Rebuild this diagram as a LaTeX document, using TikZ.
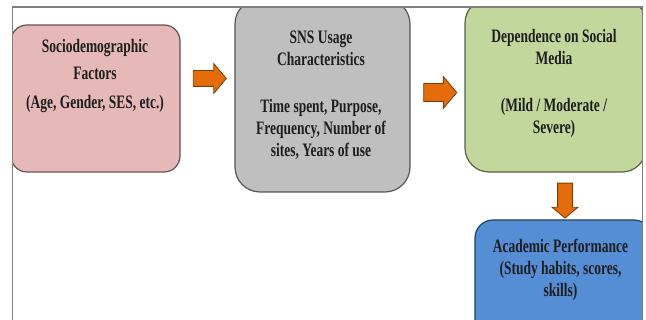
\documentclass[tikz,border=0pt]{standalone}
\usepackage{fontspec}
\setmainfont[FakeStretch=0.71]{Liberation Serif}
\usetikzlibrary{shapes.arrows}

\definecolor{pinkfill}{HTML}{E6B9B8}
\definecolor{grayfill}{HTML}{BFBFBF}
\definecolor{greenfill}{HTML}{C3D69B}
\definecolor{bluefill}{HTML}{558ED5}
\definecolor{arrowfill}{HTML}{E46C0A}
\definecolor{framegray}{HTML}{808080}
\definecolor{textdark}{HTML}{1E1E1E}

\tikzset{
  stagebox/.style={draw=#1!45!black, fill=#1, line width=1.2pt, rectangle,
    inner sep=0pt},
  boxtext/.style={align=center, inner sep=0pt, anchor=north, text=textdark,
    font=\fontsize{19}{22}\selectfont\bfseries},
  flowarrow/.style={shape=single arrow, draw=arrowfill!55!black, fill=arrowfill,
    line width=0.8pt, minimum height=#1, single arrow tip angle=100},
}

\begin{document}
\begin{tikzpicture}[x=1pt, y=-1pt]
\useasboundingbox (0,0) rectangle (646,320);

% boxes, clipped to the frame
\begin{scope}
\clip (12.5,7) rectangle (642.5,330);
\node[stagebox=pinkfill, rounded corners=16pt, minimum width=169pt, minimum height=147pt]
  (socio) at (95.5,98.5) {};
\node[stagebox=grayfill, rounded corners=25pt, minimum width=175pt, minimum height=193pt]
  (sns) at (322.5,95.5) {};
\node[stagebox=greenfill, rounded corners=24pt, minimum width=181pt, minimum height=173pt]
  (dep) at (555.5,85.5) {};
\node[stagebox=bluefill, rounded corners=18pt, minimum width=177pt, minimum height=120pt]
  (acad) at (563.5,280) {};
\end{scope}

% outer frame (open at the bottom)
\draw[framegray, line width=1.5pt] (12.5,320) -- (12.5,7) -- (642.5,7) -- (642.5,320);

% box texts
\node[boxtext] (socioT) at (95,36.6)
  {\strut Sociodemographic\\[5pt] Factors\\[7pt] (Age, Gender, SES, etc.)};
\node[boxtext] (snsT) at (321,27.6)
  {\strut SNS Usage\\ Characteristics\\[25pt] Time spent, Purpose,\\ Frequency, Number of\\ sites, Years of use};
\node[boxtext] (depT) at (554,26.6)
  {\strut Dependence on Social\\ Media\\[25pt] (Mild / Moderate /\\ Severe)};
\node[boxtext] (acadT) at (560.5,236.6)
  {\strut Academic Performance\\ (Study habits, scores,\\ skills)};

% block arrows between the stages
\node[flowarrow=33pt, inner sep=7.5pt, single arrow head extend=7pt]
  (a1) at (206.5,78.5) {};
\node[flowarrow=33pt, inner sep=8.5pt, single arrow head extend=7pt]
  (a2) at (436.5,92.5) {};
\node[flowarrow=35pt, inner sep=7pt, single arrow head extend=5.5pt,
  shape border rotate=270] (a3) at (565,197.5) {};
\end{tikzpicture}
\end{document}
